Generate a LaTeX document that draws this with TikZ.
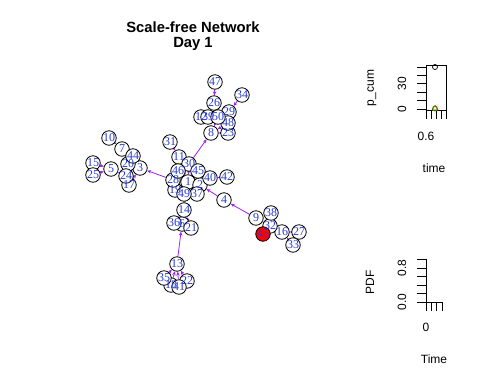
\documentclass[tikz,border=0pt]{standalone}
\usepackage{fontspec}
\setmainfont{Liberation Serif}
\newfontfamily\arial{Liberation Sans}
\usetikzlibrary{arrows.meta,backgrounds}
\definecolor{edgec}{RGB}{160,32,240}
\definecolor{labc}{RGB}{40,60,210}
\begin{document}
\begin{tikzpicture}[x=1pt,y=-1pt,
  vtx/.style={circle,draw=black,fill=white,line width=0.8pt,minimum size=14.5pt,inner sep=0pt},
  lab/.style={text=labc,font=\fontsize{12}{12}\selectfont,inner sep=0pt},
  edge/.style={draw=edgec,line width=0.8pt,-{Stealth[length=4pt,width=3.5pt]}},
  axtxt/.style={font=\arial\fontsize{12}{12}\selectfont,inner sep=0pt},
  ttl/.style={font=\arial\bfseries\fontsize{14.8}{14.8}\selectfont,inner sep=0pt},
  axline/.style={line width=0.8pt}]
\useasboundingbox (0,0) rectangle (480,384);
% vertices
\foreach \n/\x/\y in {1/188/182,2/200/185,3/140/168,4/224/200,5/111/169,6/182/224,7/122/149,8/211/133,9/256/218,10/109/138,
 11/179/157,12/201/117,13/177/264,14/184/210,15/93/163,16/282/232,17/129/185,18/171/285,19/175/190,20/128/164,
 21/191/228,22/187/281,23/228/133,24/126/176,25/93/175,26/214/103,27/299/232,28/173/180,29/229/112,30/189/164,
 31/170/142,32/270/226,33/293/245,34/242/95,35/164/278,36/174/223,37/197/194,38/271/213,39/208/117,40/210/178,
 41/179/287,42/227/177}
  \node[vtx] (v\n) at (\x,\y) {};
\node[vtx,fill=red] (v43) at (263,234) {};
\foreach \n/\x/\y in {44/133/156,45/198/171,46/178/171,47/215/82,48/228/123,49/184/194,50/218/117}
  \node[vtx] (v\n) at (\x,\y) {};
% labels
\foreach \n in {1,...,50}
  \node[lab] (l\n) at (v\n) {\n};
% edges and background
\begin{scope}[on background layer]
  \fill[white] (0,0) rectangle (480,384);
  \foreach \a/\b in {2/1,28/1,30/1,45/1,46/1,19/1,49/1,37/1,40/1,14/1,11/1,
    4/2,9/4,32/9,38/32,43/32,32/16,27/16,33/16,30/8,50/8,23/8,48/8,
    50/12,50/39,50/26,50/29,47/26,34/29,28/3,20/3,24/3,17/3,20/7,44/20,10/7,
    24/5,15/5,25/5,42/40,31/11,36/14,14/6,21/14,13/6,35/13,18/13,41/13,22/13}
    \draw[edge] (v\a) -- (v\b);
\end{scope}
% title
\node[ttl] (t1) at (193,27) {Scale-free Network};
\node[ttl] (t2) at (193,44) {Day 1};
% top right panel
\draw[axline] (426,65) rectangle (446,110);
\foreach \v in {0,...,5} \draw[axline] (426,{109-\v*8.4}) -- (417,{109-\v*8.4});
\foreach \x in {426,431,436,441,446} \draw[axline] (\x,110) -- (\x,119);
\node[axtxt,rotate=90] (ty0) at (402,109) {0};
\node[axtxt,rotate=90] (ty30) at (402,83.8) {30};
\node[axtxt] (tx06) at (426,136) {0.6};
\node[axtxt] (txl) at (434,168) {time};
\node[axtxt,rotate=90] (tyl) at (372,88) {p\_cum};
\draw[line width=0.7pt] (435,67) circle (2.5);
\draw[line width=0.7pt,red] (435,105.5) -- (438,110) -- (432,110) -- cycle;
\draw[line width=0.7pt,green!70!black] (435,108.5) circle (2.5);
% bottom right panel
\draw[axline] (426,259) -- (426,302) -- (442,302);
\foreach \v in {0,...,5} \draw[axline] (426,{302-\v*8.5}) -- (417,{302-\v*8.5});
\foreach \x in {426.5,431.7,436.8,442} \draw[axline] (\x,302) -- (\x,311);
\node[axtxt,rotate=90] (by0) at (402,302) {0.0};
\node[axtxt,rotate=90] (by8) at (402,268) {0.8};
\node[axtxt] (bx0) at (426,327) {0};
\node[axtxt] (bxl) at (434,359) {Time};
\node[axtxt,rotate=90] (byl) at (370,282) {PDF};
\end{tikzpicture}
\end{document}
